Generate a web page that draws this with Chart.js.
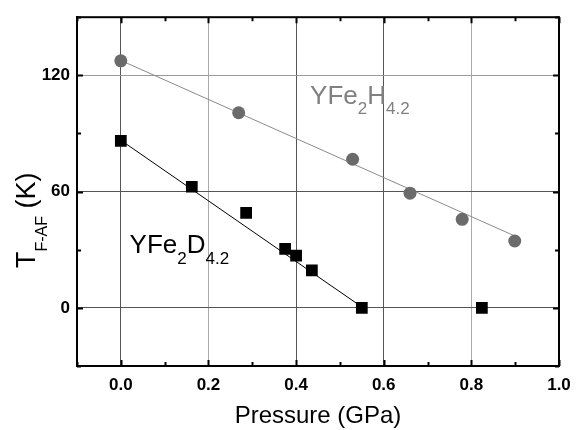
<!DOCTYPE html>
<html>
<head>
<meta charset="utf-8">
<script src="https://cdn.jsdelivr.net/npm/chart.js@4.4.1/dist/chart.umd.min.js"></script>
<style>
    html, body { margin: 0; padding: 0; background: #fff; }
    #wrap { width: 581px; height: 430px; }
</style>
</head>
<body>
<div id="wrap"><canvas id="chart" width="581" height="430"></canvas></div>
<script>
// pressure (GPa) vs transition temperature T F-AF (K)
const hydridePressure = [0.0, 0.269, 0.529, 0.66, 0.779, 0.899];
const hydrideTemp = [127.5, 100.7, 76.7, 59.2, 45.7, 34.5];
const deuteridePressure = [0.0, 0.162, 0.286, 0.375, 0.40, 0.436, 0.55, 0.824];
const deuterideTemp = [86.2, 62.5, 49.0, 30.4, 26.9, 19.3, 0.0, 0.0];

// straight fit lines through each set
const hydrideFitPressure = [0.0, 0.9];
const hydrideFitTemp = [127.7, 37.0];
const deuterideFitPressure = [0.0, 0.553];
const deuterideFitTemp = [86.5, 0.0];

const xTickLabels = ['0.0', '0.2', '0.4', '0.6', '0.8', '1.0'];
const yTickLabels = ['0', '60', '120'];

const FONT = "'Liberation Sans', Arial, Helvetica, sans-serif";

function toPoints(xs, ys) {
    return xs.map((x, i) => ({ x: x, y: ys[i] }));
}

// grid colours: some lines dark, some light like in the scan
function xGridColor(ctx) {
    const k = Math.round(ctx.tick.value * 10);
    if (k === 0 || k === 4 || k === 6) return '#555';
    if (k === 2 || k === 8) return '#aaa';
    return 'rgba(0,0,0,0)';
}
function yGridColor(ctx) {
    const v = Math.round(ctx.tick.value);
    if (v === 0 || v === 60) return '#555';
    if (v === 120) return '#999';
    return 'rgba(0,0,0,0)';
}

// draws text with subscripts, parts = [[text, isSub], ...]
function drawFormula(ctx, parts, x, y, size, subSize, subDrop) {
    let cx = x;
    parts.forEach(p => {
        ctx.font = (p[1] ? subSize : size) + 'px ' + FONT;
        ctx.fillText(p[0], cx, p[1] ? y + subDrop : y);
        cx += ctx.measureText(p[0]).width;
    });
}

const framePlugin = {
    id: 'frame',
    afterDraw(chart) {
        const ctx = chart.ctx;
        const a = chart.chartArea;
        const xs = chart.scales.x;
        const ys = chart.scales.y;
        ctx.save();

        // box around plot
        ctx.strokeStyle = '#000';
        ctx.lineWidth = 2;
        ctx.strokeRect(a.left, a.top, a.right - a.left, a.bottom - a.top);

        // inward tick marks on all four sides
        ctx.lineWidth = 2;
        ctx.beginPath();
        xs.ticks.forEach(t => {
            const px = Math.round(xs.getPixelForValue(t.value)) + 0.5;
            const major = xTickLabels.includes(t.value.toFixed(1));
            const len = major ? 6 : 4;
            ctx.moveTo(px, a.bottom); ctx.lineTo(px, a.bottom - len);
            ctx.moveTo(px, a.top); ctx.lineTo(px, a.top + len);
        });
        ys.ticks.forEach(t => {
            const py = Math.round(ys.getPixelForValue(t.value)) + 0.5;
            const major = yTickLabels.includes(String(Math.round(t.value)));
            const len = major ? 6 : 4;
            ctx.moveTo(a.left, py); ctx.lineTo(a.left + len, py);
            ctx.moveTo(a.right, py); ctx.lineTo(a.right - len, py);
        });
        ctx.stroke();

        // formula labels
        ctx.textAlign = 'left';
        ctx.textBaseline = 'alphabetic';
        ctx.fillStyle = '#808080';
        drawFormula(ctx, [['YFe', false], ['2', true], ['H', false], ['4.2', true]],
            xs.getPixelForValue(0.432), ys.getPixelForValue(105), 26, 17, 10);
        ctx.fillStyle = '#000';
        drawFormula(ctx, [['YFe', false], ['2', true], ['D', false], ['4.2', true]],
            xs.getPixelForValue(0.02), ys.getPixelForValue(28.5), 26, 17, 11);

        // x axis title
        ctx.fillStyle = '#000';
        ctx.font = '24px ' + FONT;
        ctx.textAlign = 'center';
        ctx.fillText('Pressure (GPa)', (a.left + a.right) / 2, 423);

        // y axis title, rotated
        ctx.translate(35, 268);
        ctx.rotate(-Math.PI / 2);
        ctx.textAlign = 'left';
        drawFormula(ctx, [['T', false], ['F-AF', true], [' (K)', false]], 0, 0, 27, 16, 12);
        ctx.restore();
    }
};

new Chart(document.getElementById('chart'), {
    type: 'scatter',
    data: {
        datasets: [
            {
                label: 'YFe2H4.2',
                data: toPoints(hydridePressure, hydrideTemp),
                pointStyle: 'circle',
                pointRadius: 6.5,
                backgroundColor: '#6b6b6b',
                borderColor: '#6b6b6b',
                borderWidth: 0
            },
            {
                label: 'YFe2D4.2',
                data: toPoints(deuteridePressure, deuterideTemp),
                pointStyle: 'rect',
                pointRadius: 8.3,
                backgroundColor: '#000',
                borderColor: '#000',
                borderWidth: 0
            },
            {
                label: 'H fit',
                data: toPoints(hydrideFitPressure, hydrideFitTemp),
                showLine: true,
                pointRadius: 0,
                borderColor: '#8a8a8a',
                borderWidth: 1
            },
            {
                label: 'D fit',
                data: toPoints(deuterideFitPressure, deuterideFitTemp),
                showLine: true,
                pointRadius: 0,
                borderColor: '#000',
                borderWidth: 1
            }
        ]
    },
    options: {
        responsive: false,
        animation: false,
        devicePixelRatio: 1,
        layout: { padding: { left: 0, right: 22, top: 12, bottom: 0 } },
        plugins: {
            legend: { display: false },
            tooltip: { enabled: false }
        },
        scales: {
            x: {
                type: 'linear',
                min: -0.1,
                max: 1.0,
                afterFit: (scale) => { scale.height = 64; },
                border: { display: true, color: '#000', width: 2 },
                grid: { color: xGridColor, lineWidth: 1, drawTicks: false },
                ticks: {
                    stepSize: 0.1,
                    autoSkip: false,
                    maxRotation: 0,
                    padding: 9,
                    color: '#000',
                    font: { family: FONT, size: 17, weight: 'bold' },
                    callback: (v) => {
                        const s = Number(v).toFixed(1);
                        return xTickLabels.includes(s) ? s : '';
                    }
                }
            },
            y: {
                type: 'linear',
                min: -30,
                max: 150,
                afterFit: (scale) => { scale.width = 77; },
                border: { display: true, color: '#000', width: 2 },
                grid: { color: yGridColor, lineWidth: 1, drawTicks: false },
                ticks: {
                    stepSize: 30,
                    autoSkip: false,
                    padding: 7,
                    color: '#000',
                    font: { family: FONT, size: 17, weight: 'bold' },
                    callback: (v) => {
                        const s = String(Math.round(v));
                        return yTickLabels.includes(s) ? s : '';
                    }
                }
            }
        }
    },
    plugins: [framePlugin]
});
</script>
</body>
</html>
